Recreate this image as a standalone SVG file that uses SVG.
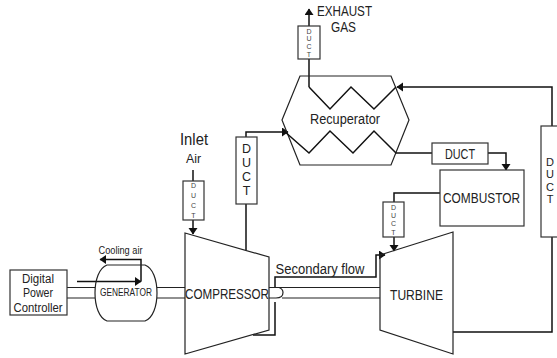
<svg xmlns="http://www.w3.org/2000/svg" width="557" height="358" viewBox="0 0 557 358">
<style>
text{font-family:"Liberation Sans",Arial,sans-serif;fill:#222;text-anchor:middle}
.s{fill:#fff;stroke:#333;stroke-width:1.2}
.l{fill:none;stroke:#111;stroke-width:1.5}
.t{fill:none;stroke:#222;stroke-width:1.2}
.d{font-size:7px;fill:#444}
.m{font-size:14px}
.n{font-size:12.500px}
.c{font-size:15.500px}
.r{font-size:11px}
</style>
<defs>
<marker id="a" markerUnits="userSpaceOnUse" markerWidth="8" markerHeight="10" refX="6" refY="4.5" orient="auto"><path d="M0 0L6.500 4.500L0 9Z" fill="#111"/></marker>
</defs>
<rect width="557" height="358" fill="#fff"/>
<g id="shafts">
<path class="t" d="M67 287.500H95M67 298H95M157 287.500H185M157 298H185M269 287.500H380M269 298H276Q283 298 283 292.500Q283 289 279 287.500M282 298H380"/>
</g>
<g id="connectors">
<path class="l" d="M77 281.500H141" marker-end="url(#a)"/>
<path class="l" d="M141 281.500V259.500H100" marker-end="url(#a)"/>
<path class="l" d="M193 170V181"/>
<path class="l" d="M193 220V234" marker-end="url(#a)"/>
<path class="l" d="M246 250V204"/>
<path class="l" d="M246 137V132H288" marker-end="url(#a)"/>
<path class="l" d="M309 87V9" marker-end="url(#a)"/>
<path class="l" d="M395 153H432"/>
<path class="l" d="M488 153H506V170" marker-end="url(#a)"/>
<path class="l" d="M440 193H394V202"/>
<path class="l" d="M394 237V251" marker-end="url(#a)"/>
<path class="l" d="M453 332H552V237"/>
<path class="l" d="M552 126V87H397" marker-end="url(#a)"/>
<path class="l" d="M253 335H275V302M275 287V277H376V255H385" marker-end="url(#a)"/>
</g>
<g id="controller"><rect class="s" x="10" y="270" width="57" height="45"/>
<text class="n" x="38" y="283" textLength="32" lengthAdjust="spacingAndGlyphs">Digital</text><text class="n" x="38" y="297" textLength="30" lengthAdjust="spacingAndGlyphs">Power</text><text class="n" x="38" y="312" textLength="49" lengthAdjust="spacingAndGlyphs">Controller</text></g>
<g id="generator"><path class="t" d="M107 265H145C153 268 157 280 157 293C157 306 153 318 145 321H107C99 318 95 306 95 293C95 280 99 268 107 265Z"/>
<text x="126" y="296" font-size="10px" textLength="52" lengthAdjust="spacingAndGlyphs">GENERATOR</text></g>
<g id="cooling-label"><text x="120.500" y="254" font-size="10px" textLength="44" lengthAdjust="spacingAndGlyphs">Cooling air</text></g>
<g id="compressor"><path class="t" d="M185 233L269 257V330L185 354Z"/>
<text class="c" x="227" y="299" textLength="84" lengthAdjust="spacingAndGlyphs">COMPRESSOR</text></g>
<g id="turbine"><path class="t" d="M380 255L453 232V354L380 330Z"/>
<text class="m" x="416.500" y="300" textLength="53" lengthAdjust="spacingAndGlyphs">TURBINE</text></g>
<g id="secondary-label"><text class="m" x="320" y="274" textLength="89" lengthAdjust="spacingAndGlyphs">Secondary flow</text></g>
<g id="recuperator"><path class="t" d="M300 76H391L409 120L391 165H300L282 120Z"/>
<path class="l" d="M309 87L330 109L351 87L374 109L396 87"/>
<path class="l" d="M284 131L309 153L330 131L353 153L374 131L396 153"/>
<text class="m" x="345" y="124" textLength="70" lengthAdjust="spacingAndGlyphs">Recuperator</text></g>
<g id="combustor"><rect class="s" x="440" y="170" width="84" height="56"/>
<text class="c" x="481.500" y="203" textLength="77" lengthAdjust="spacingAndGlyphs">COMBUSTOR</text></g>
<g id="duct-exhaust"><rect class="s" x="298" y="26" width="22" height="33"/>
<text class="d" x="309" y="34">D</text><text class="d" x="309" y="41">U</text><text class="d" x="309" y="49">C</text><text class="d" x="309" y="57">T</text></g>
<g id="duct-inlet"><rect class="s" x="183" y="181" width="21" height="39"/>
<text class="d" x="193.500" y="188">D</text><text class="d" x="193.500" y="198">U</text><text class="d" x="193.500" y="208">C</text><text class="d" x="193.500" y="218">T</text></g>
<g id="duct-compressor"><rect class="s" x="236" y="137" width="21" height="67"/>
<text class="n" x="246.500" y="153">D</text><text class="n" x="246.500" y="167">U</text><text class="n" x="246.500" y="181">C</text><text class="n" x="246.500" y="195">T</text></g>
<g id="duct-combustor"><rect class="s" x="432" y="143" width="56" height="21"/>
<text class="m" x="460" y="159" textLength="30" lengthAdjust="spacingAndGlyphs">DUCT</text></g>
<g id="duct-turbine"><rect class="s" x="383" y="202" width="21" height="35"/>
<text class="d" x="393.500" y="210">D</text><text class="d" x="393.500" y="218">U</text><text class="d" x="393.500" y="226">C</text><text class="d" x="393.500" y="235">T</text></g>
<g id="duct-right"><rect class="s" x="541" y="126" width="22" height="111"/>
<text class="r" x="550" y="166">D</text><text class="r" x="550" y="178">U</text><text class="r" x="550" y="191">C</text><text class="r" x="550" y="203">T</text></g>
<g id="labels">
<text class="m" x="344.500" y="16" textLength="55" lengthAdjust="spacingAndGlyphs">EXHAUST</text><text class="m" x="343.500" y="32" textLength="25" lengthAdjust="spacingAndGlyphs">GAS</text>
<text x="194" y="145" font-size="17px" textLength="28" lengthAdjust="spacingAndGlyphs">Inlet</text><text x="193.500" y="163" font-size="13px" textLength="15" lengthAdjust="spacingAndGlyphs">Air</text>
</g>
</svg>
